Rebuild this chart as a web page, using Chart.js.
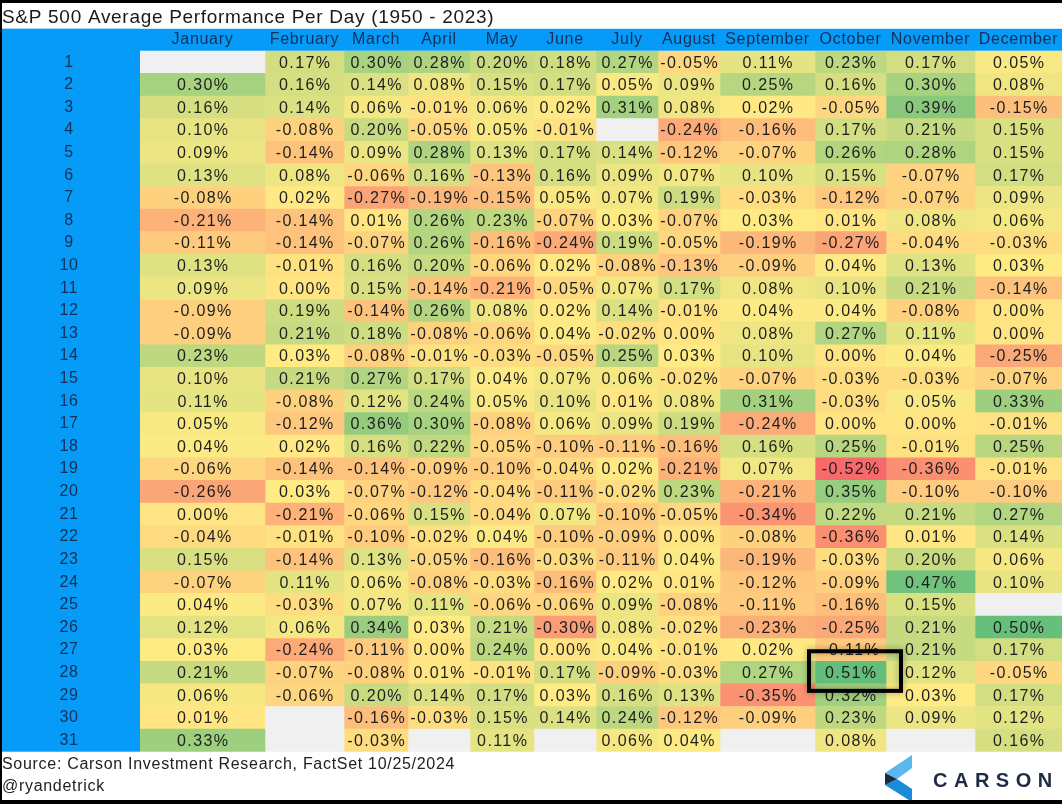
<!DOCTYPE html>
<html>
<head>
<meta charset="utf-8">
<title>S&amp;P 500 Average Performance Per Day</title>
<script src="https://cdn.jsdelivr.net/npm/chart.js@4.4.1/dist/chart.umd.min.js"></script>
<style>
  html, body { margin: 0; padding: 0; background: #fff; }
  canvas { display: block; }
</style>
</head>
<body>
<canvas id="heat" width="1062" height="804"></canvas>
<script>
// rows (day of month) and columns (months)
const days = ['1','2','3','4','5','6','7','8','9','10','11','12','13','14','15','16',
  '17','18','19','20','21','22','23','24','25','26','27','28','29','30','31'];
const months = ['January','February','March','April','May','June','July','August',
  'September','October','November','December'];

// average % change per calendar day, null = no data (blank grey cell)
const january   = [null, 0.30, 0.16, 0.10, 0.09, 0.13, -0.08, -0.21, -0.11, 0.13, 0.09, -0.09, -0.09, 0.23, 0.10, 0.11, 0.05, 0.04, -0.06, -0.26, 0.00, -0.04, 0.15, -0.07, 0.04, 0.12, 0.03, 0.21, 0.06, 0.01, 0.33];
const february  = [0.17, 0.16, 0.14, -0.08, -0.14, 0.08, 0.02, -0.14, -0.14, -0.01, 0.00, 0.19, 0.21, 0.03, 0.21, -0.08, -0.12, 0.02, -0.14, 0.03, -0.21, -0.01, -0.14, 0.11, -0.03, 0.06, -0.24, -0.07, -0.06, null, null];
const march     = [0.30, 0.14, 0.06, 0.20, 0.09, -0.06, -0.27, 0.01, -0.07, 0.16, 0.15, -0.14, 0.18, -0.08, 0.27, 0.12, 0.36, 0.16, -0.14, -0.07, -0.06, -0.10, 0.13, 0.06, 0.07, 0.34, -0.11, -0.08, 0.20, -0.16, -0.03];
const april     = [0.28, 0.08, -0.01, -0.05, 0.28, 0.16, -0.19, 0.26, 0.26, 0.20, -0.14, 0.26, -0.08, -0.01, 0.17, 0.24, 0.30, 0.22, -0.09, -0.12, 0.15, -0.02, -0.05, -0.08, 0.11, 0.03, 0.00, 0.01, 0.14, -0.03, null];
const may       = [0.20, 0.15, 0.06, 0.05, 0.13, -0.13, -0.15, 0.23, -0.16, -0.06, -0.21, 0.08, -0.06, -0.03, 0.04, 0.05, -0.08, -0.05, -0.10, -0.04, -0.04, 0.04, -0.16, -0.03, -0.06, 0.21, 0.24, -0.01, 0.17, 0.15, 0.11];
const june      = [0.18, 0.17, 0.02, -0.01, 0.17, 0.16, 0.05, -0.07, -0.24, 0.02, -0.05, 0.02, 0.04, -0.05, 0.07, 0.10, 0.06, -0.10, -0.04, -0.11, 0.07, -0.10, -0.03, -0.16, -0.06, -0.30, 0.00, 0.17, 0.03, 0.14, null];
const july      = [0.27, 0.05, 0.31, null, 0.14, 0.09, 0.07, 0.03, 0.19, -0.08, 0.07, 0.14, -0.02, 0.25, 0.06, 0.01, 0.09, -0.11, 0.02, -0.02, -0.10, -0.09, -0.11, 0.02, 0.09, 0.08, 0.04, -0.09, 0.16, 0.24, 0.06];
const august    = [-0.05, 0.09, 0.08, -0.24, -0.12, 0.07, 0.19, -0.07, -0.05, -0.13, 0.17, -0.01, 0.00, 0.03, -0.02, 0.08, 0.19, -0.16, -0.21, 0.23, -0.05, 0.00, 0.04, 0.01, -0.08, -0.02, -0.01, -0.03, 0.13, -0.12, 0.04];
const september = [0.11, 0.25, 0.02, -0.16, -0.07, 0.10, -0.03, 0.03, -0.19, -0.09, 0.08, 0.04, 0.08, 0.10, -0.07, 0.31, -0.24, 0.16, 0.07, -0.21, -0.34, -0.08, -0.19, -0.12, -0.11, -0.23, 0.02, 0.27, -0.35, -0.09, null];
const october   = [0.23, 0.16, -0.05, 0.17, 0.26, 0.15, -0.12, 0.01, -0.27, 0.04, 0.10, 0.04, 0.27, 0.00, -0.03, -0.03, 0.00, 0.25, -0.52, 0.35, 0.22, -0.36, -0.03, -0.09, -0.16, -0.25, -0.11, 0.51, 0.32, 0.23, 0.08];
const november  = [0.17, 0.30, 0.39, 0.21, 0.28, -0.07, -0.07, 0.08, -0.04, 0.13, 0.21, -0.08, 0.11, 0.04, -0.03, 0.05, 0.00, -0.01, -0.36, -0.10, 0.21, 0.01, 0.20, 0.47, 0.15, 0.21, 0.21, 0.12, 0.03, 0.09, null];
const december  = [0.05, 0.08, -0.15, 0.15, 0.15, 0.17, 0.09, 0.06, -0.03, 0.03, -0.14, 0.00, 0.00, -0.25, -0.07, 0.33, -0.01, 0.25, -0.01, -0.10, 0.27, 0.14, 0.06, 0.10, null, 0.50, 0.17, -0.05, 0.17, 0.12, 0.16];

const monthValues = [january, february, march, april, may, june, july, august,
  september, october, november, december];

// layout: column widths of the sheet (x axis runs in these units)
const colWidths = [125, 79, 64, 62, 64, 62, 62, 62, 95, 71, 89, 87];
const edges = [0];
colWidths.forEach(w => edges.push(edges[edges.length - 1] + w));
const centers = colWidths.map((w, i) => edges[i] + w / 2);

const FONT = "'Liberation Sans', Arial, sans-serif";
const BLUE = '#059bf6';
const NAVY = '#13305c';
const BLANK = '#f0f0f0';

// excel style 3 colour scale: min red, 50th percentile yellow, max green
const allVals = monthValues.flat().filter(v => v !== null).sort((a, b) => a - b);
const minV = allVals[0];
const maxV = allVals[allVals.length - 1];
const pos = (allVals.length - 1) * 0.5;
const midV = allVals[Math.floor(pos)] + (allVals[Math.ceil(pos)] - allVals[Math.floor(pos)]) * (pos - Math.floor(pos));
const RED = [248, 105, 107], YEL = [255, 235, 132], GRN = [99, 190, 123];

function cellColor(v) {
  if (v === null || v === undefined) return BLANK;
  let a, b, t;
  if (v <= midV) { a = RED; b = YEL; t = (v - minV) / (midV - minV); }
  else { a = YEL; b = GRN; t = (v - midV) / (maxV - midV); }
  const c = a.map((x, i) => Math.round(x + (b[i] - x) * t));
  return 'rgb(' + c.join(',') + ')';
}

const datasets = months.map((m, mi) => ({
  label: m,
  data: days.map(() => [edges[mi], edges[mi + 1]]),
  backgroundColor: ctx => cellColor(monthValues[mi][ctx.dataIndex]),
  borderWidth: 0,
  grouped: false,
  barPercentage: 1,
  categoryPercentage: 1
}));

const tablePlugin = {
  id: 'table',
  beforeDraw(chart) {
    const { ctx, width, height, chartArea } = chart;
    const x = chart.scales.x, y = chart.scales.y;
    ctx.save();
    ctx.fillStyle = '#fff';
    ctx.fillRect(0, 0, width, height);
    ctx.fillStyle = BLUE;
    ctx.fillRect(y.left, x.top, chartArea.right - y.left, x.bottom - x.top);
    ctx.fillRect(y.left, x.top, y.right - y.left, chartArea.bottom - x.top);
    ctx.restore();
    // the sheet text is a little wider than plain Arial
    ctx.letterSpacing = '0.7px';
  },
  afterDatasetsDraw(chart) {
    const ctx = chart.ctx;
    ctx.save();
    ctx.font = '16px ' + FONT;
    ctx.letterSpacing = '1.4px';
    ctx.fillStyle = '#1e1e1e';
    ctx.textAlign = 'center';
    ctx.textBaseline = 'middle';
    chart.data.datasets.forEach((ds, mi) => {
      chart.getDatasetMeta(mi).data.forEach((el, di) => {
        const v = monthValues[mi][di];
        if (v === null) return;
        ctx.fillText(v.toFixed(2) + '%', (el.x + el.base) / 2 + 0.7, el.y + 1);
      });
    });
    ctx.restore();
  },
  afterDraw(chart) {
    const { ctx, width, height } = chart;
    ctx.save();
    // highlight around October 28
    const el = chart.getDatasetMeta(9).data[27];
    const l = el.base - 6, r = el.x + 15, t = el.y - el.height / 2 - 10, b = el.y + el.height / 2 + 7;
    ctx.shadowColor = 'rgba(0,0,0,0.35)';
    ctx.shadowBlur = 6;
    ctx.strokeStyle = '#000';
    ctx.lineWidth = 4;
    ctx.strokeRect(l, t, r - l, b - t);
    ctx.shadowBlur = 0;
    ctx.shadowColor = 'transparent';

    // carson logo
    const lx = width - 177, ly = height - 49;
    const poly = (pts, color) => {
      ctx.beginPath();
      pts.forEach((p, i) => i ? ctx.lineTo(lx + p[0], ly + p[1]) : ctx.moveTo(lx + p[0], ly + p[1]));
      ctx.closePath();
      ctx.fillStyle = color;
      ctx.fill();
    };
    poly([[27, 0], [27, 13], [12, 24], [0, 18]], '#5cb6ef');
    poly([[12, 24], [27, 34], [27, 47], [0, 30]], '#1a8bd6');
    poly([[0, 18], [12, 24], [0, 30]], '#1b2b45');
    ctx.fillStyle = '#1d2b44';
    ctx.font = 'bold 20px ' + FONT;
    ctx.letterSpacing = '6.5px';
    ctx.textAlign = 'left';
    ctx.textBaseline = 'alphabetic';
    ctx.fillText('CARSON', width - 129, height - 17);

    // frame
    ctx.fillStyle = '#000';
    ctx.fillRect(0, 0, width, 3);
    ctx.fillRect(0, height - 4, width, 4);
    ctx.fillRect(0, 0, 2, height);
    ctx.restore();
  }
};

new Chart(document.getElementById('heat'), {
  type: 'bar',
  data: { labels: days, datasets: datasets },
  options: {
    responsive: false,
    animation: false,
    indexAxis: 'y',
    layout: { padding: { left: 2, right: 0, top: 3, bottom: 4 } },
    plugins: {
      legend: { display: false },
      tooltip: { enabled: false },
      title: {
        display: true,
        text: 'S&P 500 Average Performance Per Day (1950 - 2023)',
        align: 'start',
        color: '#1a1a1a',
        font: { family: FONT, size: 19, weight: 'normal', lineHeight: 1.2 },
        padding: { top: 3, bottom: 0 }
      },
      subtitle: {
        display: true,
        position: 'bottom',
        align: 'start',
        text: ['Source: Carson Investment Research, FactSet 10/25/2024', '@ryandetrick'],
        color: '#222',
        font: { family: FONT, size: 16, lineHeight: 1.375 },
        padding: { top: 2, bottom: 2.3 }
      }
    },
    scales: {
      x: {
        type: 'linear',
        position: 'top',
        min: 0,
        max: edges[edges.length - 1],
        grid: { display: false, drawTicks: false },
        border: { display: false },
        afterBuildTicks: s => { s.ticks = centers.map(v => ({ value: v })); },
        afterFit: s => { s.height = 22; s.paddingLeft = 0; s.paddingRight = 0; },
        ticks: {
          autoSkip: false,
          maxRotation: 0,
          padding: 1.5,
          color: NAVY,
          font: { family: FONT, size: 16 },
          callback: (v, i) => months[i]
        }
      },
      y: {
        type: 'category',
        grid: { display: false, drawTicks: false },
        border: { display: false },
        afterFit: s => { s.width = 138; s.paddingTop = 0; s.paddingBottom = 0; },
        ticks: {
          autoSkip: false,
          crossAlign: 'center',
          padding: 62,
          color: NAVY,
          font: { family: FONT, size: 16 }
        }
      }
    }
  },
  plugins: [tablePlugin]
});
</script>
</body>
</html>
